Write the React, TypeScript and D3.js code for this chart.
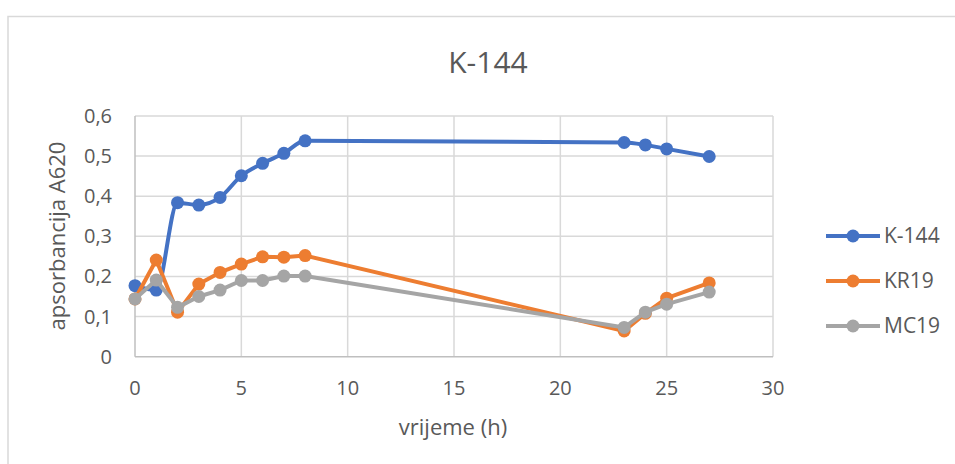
import { useEffect, useRef } from "react";
import * as d3 from "d3";

const hours = [0, 1, 2, 3, 4, 5, 6, 7, 8, 23, 24, 25, 27];
const k144 = [0.177, 0.166, 0.384, 0.378, 0.397, 0.451, 0.482, 0.507, 0.538, 0.534, 0.528, 0.518, 0.499];
const kr19 = [0.144, 0.241, 0.111, 0.181, 0.21, 0.231, 0.249, 0.248, 0.252, 0.064, 0.108, 0.146, 0.184];
const mc19 = [0.144, 0.191, 0.123, 0.15, 0.166, 0.19, 0.19, 0.201, 0.201, 0.073, 0.111, 0.131, 0.161];
const seriesNames = ["K-144", "KR19", "MC19"];
const seriesColors = ["#4472C4", "#ED7D31", "#A5A5A5"];
const xTicks = [0, 5, 10, 15, 20, 25, 30];
const yTicks = [0, 0.1, 0.2, 0.3, 0.4, 0.5, 0.6];

const W = 955;
const H = 464;
const FONT = "'Open Sans', 'Noto Sans', sans-serif";
const TEXT = "#595959";

export default function App() {
  const svgRef = useRef<SVGSVGElement>(null);

  useEffect(() => {
    if (!svgRef.current) return;
    const svg = d3.select(svgRef.current);
    svg.selectAll("*").remove();

    const plot = { left: 135, right: 773, top: 116, bottom: 356.7 };
    const x = d3.scaleLinear().domain([0, 30]).range([plot.left, plot.right]);
    const y = d3.scaleLinear().domain([0, 0.6]).range([plot.bottom, plot.top]);

    svg
      .append("rect")
      .attr("width", W)
      .attr("height", H)
      .attr("fill", "#fff");

    // outer chart border (runs off the right / bottom)
    svg
      .append("rect")
      .attr("x", 8)
      .attr("y", 16.5)
      .attr("width", W + 20)
      .attr("height", H + 20)
      .attr("fill", "none")
      .attr("stroke", "#d9d9d9")
      .attr("stroke-width", 1.5);

    svg
      .append("text")
      .attr("x", 488)
      .attr("y", 72.7)
      .attr("text-anchor", "middle")
      .style("font-family", FONT)
      .style("font-size", "30px")
      .style("fill", TEXT)
      .text("K-144");

    const grid = svg.append("g");
    grid
      .selectAll("line.h")
      .data(yTicks.slice(1))
      .enter()
      .append("line")
      .attr("x1", plot.left)
      .attr("x2", plot.right)
      .attr("y1", (d) => y(d))
      .attr("y2", (d) => y(d))
      .attr("stroke", "#d9d9d9")
      .attr("stroke-width", 1.5);
    grid
      .selectAll("line.v")
      .data(xTicks.slice(1))
      .enter()
      .append("line")
      .attr("x1", (d) => x(d))
      .attr("x2", (d) => x(d))
      .attr("y1", plot.top)
      .attr("y2", plot.bottom)
      .attr("stroke", "#d9d9d9")
      .attr("stroke-width", 1.5);

    // axis lines
    svg
      .append("line")
      .attr("x1", plot.left)
      .attr("x2", plot.right)
      .attr("y1", plot.bottom)
      .attr("y2", plot.bottom)
      .attr("stroke", "#bfbfbf")
      .attr("stroke-width", 1.5);
    svg
      .append("line")
      .attr("x1", plot.left)
      .attr("x2", plot.left)
      .attr("y1", plot.top)
      .attr("y2", plot.bottom)
      .attr("stroke", "#bfbfbf")
      .attr("stroke-width", 1.5);

    const fmt = (v: number) => (v === 0 ? "0" : d3.format(".1f")(v).replace(".", ","));

    svg
      .append("g")
      .selectAll("text")
      .data(yTicks)
      .enter()
      .append("text")
      .attr("x", 112)
      .attr("y", (d) => y(d))
      .attr("dy", "0.35em")
      .attr("text-anchor", "end")
      .style("font-family", FONT)
      .style("font-size", "20px")
      .style("fill", TEXT)
      .text(fmt);

    svg
      .append("g")
      .selectAll("text")
      .data(xTicks)
      .enter()
      .append("text")
      .attr("x", (d) => x(d))
      .attr("y", 387.5)
      .attr("dy", "0.35em")
      .attr("text-anchor", "middle")
      .style("font-family", FONT)
      .style("font-size", "20px")
      .style("fill", TEXT)
      .text((d) => String(d));

    svg
      .append("text")
      .attr("x", 453)
      .attr("y", 435)
      .attr("text-anchor", "middle")
      .style("font-family", FONT)
      .style("font-size", "22px")
      .style("fill", TEXT)
      .text("vrijeme (h)");

    svg
      .append("text")
      .attr("transform", "translate(65,236) rotate(-90)")
      .attr("text-anchor", "middle")
      .style("font-family", FONT)
      .style("font-size", "22px")
      .style("fill", TEXT)
      .text("apsorbancija A620");

    const allSeries = [k144, kr19, mc19];
    const curves = [d3.curveMonotoneX, d3.curveLinear, d3.curveLinear];

    allSeries.forEach((vals, i) => {
      const pts: [number, number][] = hours.map((h, j) => [h, vals[j]]);
      const line = d3
        .line<[number, number]>()
        .x((d) => x(d[0]))
        .y((d) => y(d[1]))
        .curve(curves[i]);
      const g = svg.append("g");
      g.append("path")
        .attr("d", line(pts))
        .attr("fill", "none")
        .attr("stroke", seriesColors[i])
        .attr("stroke-width", 4)
        .attr("stroke-linejoin", "round");
      g.selectAll("circle")
        .data(pts)
        .enter()
        .append("circle")
        .attr("cx", (d) => x(d[0]))
        .attr("cy", (d) => y(d[1]))
        .attr("r", 6.5)
        .attr("fill", seriesColors[i]);
    });

    const legend = svg
      .append("g")
      .selectAll("g")
      .data(seriesNames)
      .enter()
      .append("g")
      .attr("transform", (_d, i) => `translate(826,${236 + i * 45})`);
    legend
      .append("line")
      .attr("x1", 0)
      .attr("x2", 54)
      .attr("stroke", (_d, i) => seriesColors[i])
      .attr("stroke-width", 4);
    legend
      .append("circle")
      .attr("cx", 27)
      .attr("r", 6.5)
      .attr("fill", (_d, i) => seriesColors[i]);
    legend
      .append("text")
      .attr("x", 58)
      .attr("dy", "0.35em")
      .style("font-family", FONT)
      .style("font-size", "21px")
      .style("fill", TEXT)
      .text((d) => d);
  }, []);

  return (
    <svg
      ref={svgRef}
      width={W}
      height={H}
      style={{ position: "absolute", left: 0, top: 0, display: "block" }}
    />
  );
}
